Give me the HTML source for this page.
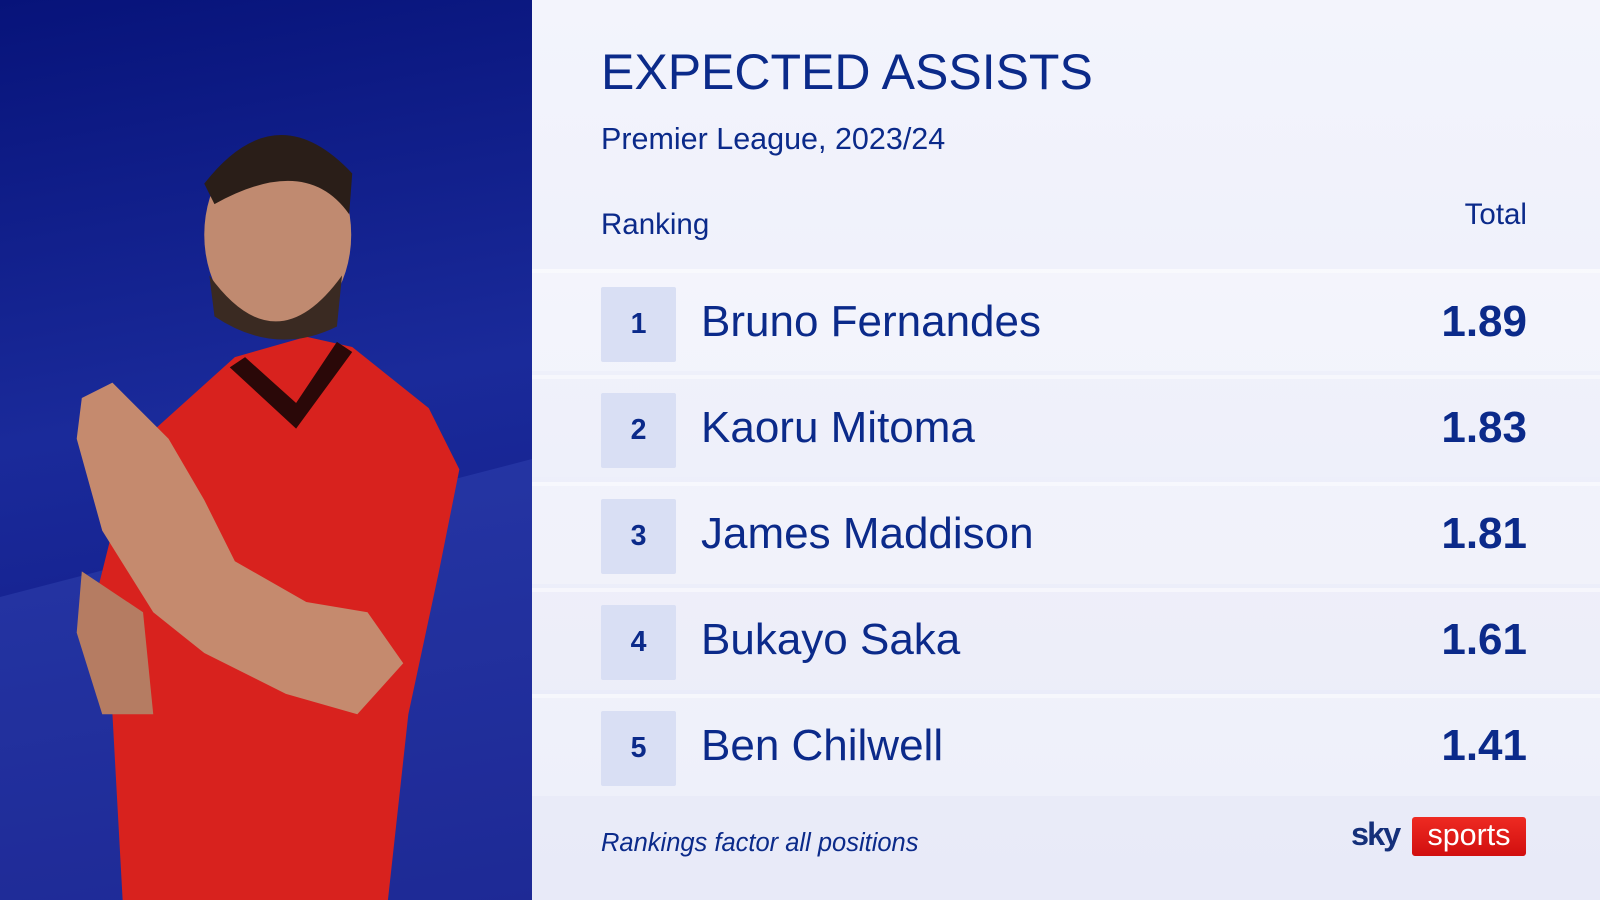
<!DOCTYPE html>
<html><head><style>
html,body{margin:0;padding:0;width:1600px;height:900px;overflow:hidden;background:#eef0fa;position:relative;font-family:"Liberation Sans",sans-serif;color:#0b2a8a}
#left{position:absolute;left:0;top:0;width:532px;height:900px;background:linear-gradient(170deg,#07137a 0%,#1a2a9a 45%,#0e1580 100%);overflow:hidden}
#right{position:absolute;left:532px;top:0;width:1068px;height:900px;background:linear-gradient(180deg,#f3f4fc,#e8eaf8)}
.row{position:absolute;left:532px;width:1068px;height:102px;background:rgba(255,255,255,0.25);border-top:4px solid rgba(255,255,255,0.45);box-sizing:border-box}
.box{position:absolute;left:601px;width:75px;height:75px;background:#d9dff4;border-radius:2px;text-align:center;line-height:75px;font-weight:bold;font-size:28.5px}
.name{position:absolute;left:701px;font-size:44px;line-height:75px;white-space:nowrap}
.val{position:absolute;right:73px;font-size:44px;font-weight:bold;line-height:75px}
</style></head><body>
<div id="left">
<svg width="532" height="900" style="position:absolute;left:0;top:0"><polygon points="0,597 532,459 532,900 0,900" fill="rgba(60,80,190,.35)"/></svg>
<svg width="532" height="900" viewBox="0 0 521 882" style="position:absolute;left:0;top:0">
<path d="M130 440 L230 350 L300 330 L345 340 L420 400 L450 460 L430 560 L400 700 L380 882 L120 882 L110 700 L95 580 Z" fill="#d8221e"/>
<path d="M225 360 L290 420 L345 345 L330 335 L290 395 L240 350Z" fill="#2a0808"/>
<path d="M80 390 L110 375 L165 430 L200 490 L230 550 L300 590 L360 600 L395 650 L350 700 L280 680 L200 640 L150 600 L100 520 L75 430Z" fill="#c58a6e"/>
<path d="M80 560 L140 600 L150 700 L100 700 L75 620Z" fill="#b57c62"/>
<ellipse cx="272" cy="230" rx="72" ry="95" fill="#c08a70"/>
<path d="M200 180 Q270 90 345 170 L342 210 Q300 150 210 200Z" fill="#2a1e18"/>
<path d="M205 270 Q270 360 335 270 L330 320 Q270 350 210 310Z" fill="#3a2a22"/>
</svg>
</div>
<div id="right"></div>
<div style="position:absolute;left:601px;top:43px;font-size:50px;white-space:nowrap">EXPECTED ASSISTS</div>
<div style="position:absolute;left:601px;top:122px;font-size:30.5px;white-space:nowrap">Premier League, 2023/24</div>
<div style="position:absolute;left:601px;top:208px;font-size:29.5px">Ranking</div>
<div style="position:absolute;right:73px;top:198px;font-size:29.5px">Total</div>
<div class="row" style="top:269px"></div>
<div class="row" style="top:375px;background:rgba(255,255,255,0.1)"></div>
<div class="row" style="top:482px"></div>
<div class="row" style="top:588px;background:rgba(255,255,255,0.1)"></div>
<div class="row" style="top:694px"></div>
<div class="box" style="top:287px">1</div><div class="name" style="top:284px">Bruno Fernandes</div><div class="val" style="top:284px">1.89</div>
<div class="box" style="top:393px">2</div><div class="name" style="top:390px">Kaoru Mitoma</div><div class="val" style="top:390px">1.83</div>
<div class="box" style="top:499px">3</div><div class="name" style="top:496px">James Maddison</div><div class="val" style="top:496px">1.81</div>
<div class="box" style="top:605px">4</div><div class="name" style="top:602px">Bukayo Saka</div><div class="val" style="top:602px">1.61</div>
<div class="box" style="top:711px">5</div><div class="name" style="top:708px">Ben Chilwell</div><div class="val" style="top:708px">1.41</div>
<div style="position:absolute;left:601px;top:829px;font-size:25.5px;font-style:italic;white-space:nowrap">Rankings factor all positions</div>
<div style="position:absolute;left:1351px;top:816px;font-size:32.5px;font-weight:bold;color:#15307a;letter-spacing:-2px">sky</div>
<div style="position:absolute;left:1412px;top:817px;width:114px;height:39px;background:linear-gradient(#ee2a22,#d10f0f);border-radius:3px;color:#fff;font-size:30.5px;line-height:37px;text-align:center">sports</div>
</body></html>
